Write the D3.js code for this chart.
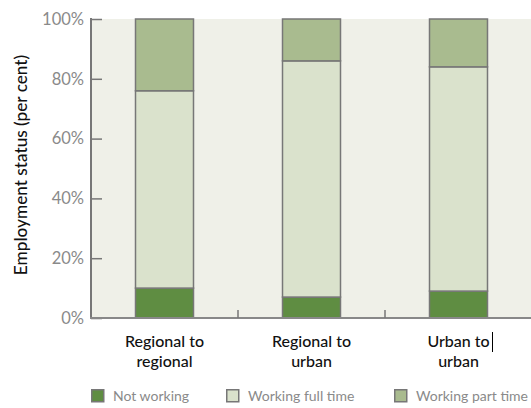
<!DOCTYPE html>
<html>
<head>
<meta charset="utf-8">
<script src="https://cdn.jsdelivr.net/npm/d3@7"></script>
<style>
  body { margin: 0; background: #fff; }
  svg text { font-family: Lato, "Open Sans", sans-serif; }
</style>
</head>
<body>
<div id="chart"></div>
<script>
var width = 531, height = 408;

var categories = [["Regional to", "regional"], ["Regional to", "urban"], ["Urban to", "urban"]];
var series = ["Not working", "Working full time", "Working part time"];
var notWorking = [10, 7, 9];
var fullTime = [66, 79, 75];
var partTime = [24, 14, 16];
var yTicks = [0, 20, 40, 60, 80, 100];

var colours = ["#5f8d42", "#dae2cc", "#a9bb8f"];

var rows = categories.map(function(c, i) {
  return { key: i, "Not working": notWorking[i], "Working full time": fullTime[i], "Working part time": partTime[i] };
});

var svg = d3.select("#chart").append("svg")
  .attr("width", width).attr("height", height);

var x = d3.scaleBand().domain(d3.range(categories.length)).range([91, 532]);
var y = d3.scaleLinear().domain([0, 100]).range([318, 19]);
var barW = 58;

// plot background
svg.append("rect")
  .attr("x", 91).attr("y", y(100))
  .attr("width", width - 91).attr("height", y(0) - y(100))
  .attr("fill", "#eff0e8");

var stack = d3.stack().keys(series)(rows);

svg.append("g").selectAll("g")
  .data(stack)
  .enter().append("g")
  .attr("fill", function(d, i) { return colours[i]; })
  .selectAll("rect")
  .data(function(d) { return d; })
  .enter().append("rect")
  .attr("x", function(d, i) { return x(i) + x.bandwidth() / 2 - barW / 2; })
  .attr("y", function(d) { return y(d[1]); })
  .attr("width", barW)
  .attr("height", function(d) { return y(d[0]) - y(d[1]); })
  .attr("stroke", "#777")
  .attr("stroke-width", 1.5);

// y axis
var yAxis = svg.append("g").attr("transform", "translate(91,0)")
  .call(d3.axisRight(y).tickValues(yTicks).tickSize(11).tickFormat(function(d) { return d + "%"; }));
yAxis.select(".domain").remove();
yAxis.selectAll(".tick line").attr("stroke", "#777").attr("stroke-width", 1.5);
yAxis.selectAll(".tick text")
  .attr("x", -7).attr("text-anchor", "end")
  .attr("fill", "#8a8a8a").style("font-size", "16.5px");
yAxis.append("line")
  .attr("x1", 0).attr("x2", 0).attr("y1", y(100) - 1).attr("y2", y(0))
  .attr("stroke", "#777").attr("stroke-width", 2);

// x axis
svg.append("line")
  .attr("x1", 90).attr("x2", width).attr("y1", y(0)).attr("y2", y(0))
  .attr("stroke", "#888").attr("stroke-width", 2);
svg.append("g").selectAll("line")
  .data(d3.range(1, categories.length))
  .enter().append("line")
  .attr("x1", function(d) { return x(d); }).attr("x2", function(d) { return x(d); })
  .attr("y1", y(0) - 8).attr("y2", y(0))
  .attr("stroke", "#777").attr("stroke-width", 1.5);

var labels = svg.append("g").selectAll("text")
  .data(categories)
  .enter().append("text")
  .attr("text-anchor", "middle")
  .attr("fill", "#111")
  .style("font-size", "16px")
  .style("font-weight", 500)
  .attr("x", function(d, i) { return x(i) + x.bandwidth() / 2; })
  .attr("y", 347);
labels.selectAll("tspan")
  .data(function(d) { return d; })
  .enter().append("tspan")
  .attr("x", function() { return d3.select(this.parentNode).attr("x"); })
  .attr("dy", function(d, i) { return i ? 19.5 : 0; })
  .text(function(d) { return d; });

// stray text cursor after "Urban to"
svg.append("line")
  .attr("x1", 492.5).attr("x2", 492.5).attr("y1", 332).attr("y2", 352)
  .attr("stroke", "#000").attr("stroke-width", 1);

// y title
svg.append("text")
  .attr("transform", "translate(27,165) rotate(-90)")
  .attr("text-anchor", "middle")
  .attr("fill", "#111")
  .style("font-size", "17.2px")
  .style("font-weight", 500)
  .text("Employment status (per cent)");

// legend
var legendX = [91, 226, 394];
var legend = svg.append("g").selectAll("g")
  .data(series)
  .enter().append("g")
  .attr("transform", function(d, i) { return "translate(" + legendX[i] + ",389)"; });
legend.append("rect")
  .attr("x", 0.75).attr("y", 0.75).attr("width", 12).attr("height", 12)
  .attr("fill", function(d, i) { return colours[i]; })
  .attr("stroke", "#777").attr("stroke-width", 1.5);
legend.append("text")
  .attr("x", 22).attr("y", 12)
  .attr("fill", "#8a8a8a")
  .style("font-size", "14px")
  .text(function(d) { return d; });
</script>
</body>
</html>
